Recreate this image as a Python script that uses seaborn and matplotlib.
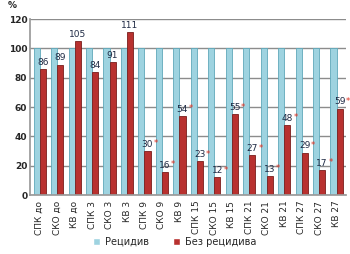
import matplotlib
matplotlib.use("Agg")
import matplotlib.pyplot as plt
import seaborn as sns
import pandas as pd

categories = ["СПК до", "СКО до", "КВ до", "СПК 3", "СКО 3", "КВ 3",
              "СПК 9", "СКО 9", "КВ 9", "СПК 15", "СКО 15", "КВ 15",
              "СПК 21", "СКО 21", "КВ 21", "СПК 27", "СКО 27", "КВ 27"]
relapse = [100] * 18
no_relapse = [86, 89, 105, 84, 91, 111, 30, 16, 54, 23, 12, 55, 27, 13, 48, 29, 17, 59]
starred = [False] * 6 + [True] * 12
series_names = ["Рецидив", "Без рецидива"]

df = pd.DataFrame({
    "cat": categories * 2,
    "val": relapse + no_relapse,
    "series": [series_names[0]] * 18 + [series_names[1]] * 18,
})

sns.set_theme(style="white")
plt.rcParams["font.family"] = ["DejaVu Sans"]

fig = plt.figure(figsize=(3.5, 2.54), dpi=100)
ax = fig.add_axes([0.086, 0.232, 0.903, 0.693])

colors = ["#9ED3E0", "#B8312F"]
sns.barplot(data=df, x="cat", y="val", hue="series", order=categories,
            hue_order=series_names, palette=colors, width=0.7, ax=ax,
            saturation=1, legend=True)

for i, p in enumerate(ax.patches[:36]):
    if i < 18:
        p.set_edgecolor("#5FA8BA")
    else:
        p.set_edgecolor("#7A1E1C")
    p.set_linewidth(0.6)

ax.set_ylim(0, 120)
ax.set_yticks(range(0, 121, 20))
ax.set_xlim(-0.55, 17.55)
ax.yaxis.grid(True, color="#8C8C8C", linewidth=1.0)
ax.set_axisbelow(True)
for s in ["top", "right"]:
    ax.spines[s].set_visible(False)
ax.spines["left"].set_color("#9A9A9A")
ax.spines["bottom"].set_color("#9A9A9A")
ax.tick_params(axis="y", labelsize=6.5, pad=2, length=0)
ax.tick_params(axis="x", labelsize=6.5, rotation=90, pad=2, length=2)
for t in ax.get_yticklabels():
    t.set_fontweight("bold")
ax.set_xlabel("")
ax.set_ylabel("")

red_bars = ax.patches[18:36]
for bar, v, st in zip(red_bars, no_relapse, starred):
    cx = bar.get_x() + bar.get_width() / 2
    t = ax.annotate(str(v), (cx, v), xytext=(0, 1.5), textcoords="offset points",
                    ha="center", va="bottom", fontsize=6.5, color="#1F2A44")
    if st:
        ax.annotate("*", xy=(1, 1), xycoords=t, xytext=(0.3, 0.5),
                    textcoords="offset points", ha="left", va="top",
                    fontsize=6, color="#E03020")

fig.text(12 / 350, 1 - 6 / 254, "%", fontsize=6.5, fontweight="bold",
         ha="center", va="center")

handles, labels = ax.get_legend_handles_labels()
ax.get_legend().remove()
fig.legend(handles, labels, loc="center", bbox_to_anchor=(0.5, 1 - 242 / 254),
           ncol=2, frameon=False, fontsize=7, handlelength=0.7,
           handleheight=0.7, columnspacing=2.5, handletextpad=0.5)

fig.savefig("out.png", dpi=100)
